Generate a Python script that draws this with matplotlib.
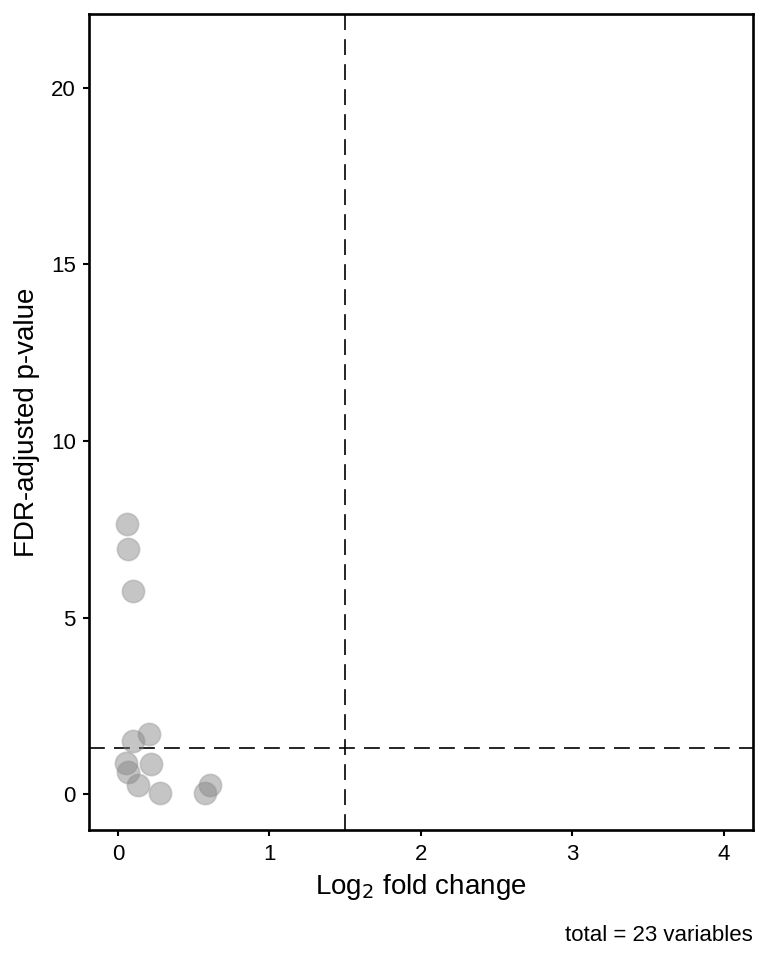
import matplotlib
matplotlib.use('Agg')
import matplotlib.pyplot as plt
import numpy as np

plt.rcParams['font.family'] = ['Liberation Sans', 'DejaVu Sans']

# log2 fold change / FDR-adjusted p-value (-log10)
log2fc = [0.057, 0.068, 0.097, 0.097, 0.204, 0.053, 0.064, 0.220, 0.134, 0.280, 0.611, 0.574]
padj = [7.66, 6.95, 5.75, 1.50, 1.70, 0.88, 0.63, 0.86, 0.27, 0.04, 0.27, 0.05]
fc_cut = 1.5
p_cut = 1.3
n_total = 23

fig = plt.figure(figsize=(7.68, 9.6), dpi=100)
ax = fig.add_axes([0.116, 0.135, 0.864, 0.85])

ax.scatter(log2fc, padj, s=260, facecolor=(0.5, 0.5, 0.5, 0.45),
           edgecolors=(0.55, 0.55, 0.55, 0.35), linewidths=1.2, zorder=3)
ax.axvline(fc_cut, color='black', linestyle=(0, (9.5, 5.5)), linewidth=1.2)
ax.axhline(p_cut, color='black', linestyle=(0, (9.5, 5.5)), linewidth=1.2)

ax.set_xlim(-0.19, 4.19)
ax.set_ylim(-1.02, 22.07)
ax.set_xticks([0, 1, 2, 3, 4])
ax.set_yticks([0, 5, 10, 15, 20])
ax.tick_params(labelsize=16, length=4.5, width=1.5, direction='out', pad=5)
for sp in ax.spines.values():
    sp.set_linewidth(1.9)

ax.set_xlabel('Log$_2$ fold change', fontsize=20, labelpad=5)
ax.set_ylabel('FDR-adjusted p-value', fontsize=20, labelpad=8)

fig.text(0.98, 0.015, f'total = {n_total} variables', ha='right', va='bottom', fontsize=16)

plt.savefig('out.png', dpi=100)
